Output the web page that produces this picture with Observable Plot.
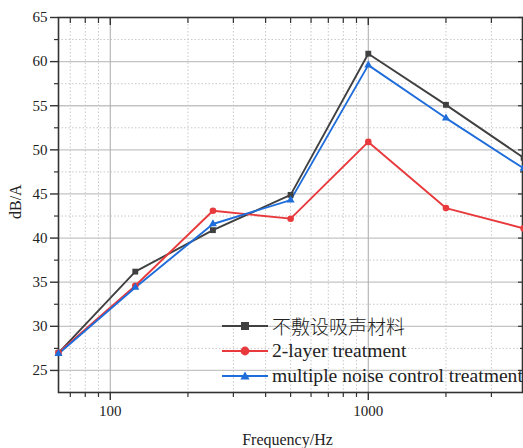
<!DOCTYPE html>
<html><head><meta charset="utf-8">
<script src="https://cdn.jsdelivr.net/npm/d3@7"></script>
<script src="https://cdn.jsdelivr.net/npm/@observablehq/plot@0.6"></script>
<style>
body{margin:0;background:#fff;}
#wrap{position:relative;width:523px;height:448px;overflow:hidden;}
#legend{position:absolute;left:222px;top:313px;font-family:"Liberation Serif","Times New Roman",serif;font-size:19.6px;color:#222;white-space:nowrap;}
#legend .row{height:25px;display:flex;align-items:center;}
#legend svg{margin-right:4px;flex:none;}
#legend .cjk{font-family:"Noto Sans CJK SC",sans-serif;font-size:19px;font-weight:300;}
</style></head><body><div id="wrap"></div>
<script>
const freqs = [63, 125, 250, 500, 1000, 2000, 4000];
const seriesNames = ["不敷设吸声材料", "2-layer treatment", "multiple noise control treatment"];
const untreated = [27, 36.2, 40.9, 44.9, 60.9, 55.1, 49.1];
const twoLayer = [27, 34.6, 43.1, 42.2, 50.9, 43.4, 41.1];
const multiple = [26.9, 34.4, 41.6, 44.3, 59.6, 53.6, 47.9];
const colors = ["#404040", "#e8393c", "#1f6ddb"];
const symbols = ["square", "circle", "triangle"];
const yMajor = [25, 30, 35, 40, 45, 50, 55, 60, 65];
const yMinor = [27.5, 32.5, 37.5, 42.5, 47.5, 52.5, 57.5, 62.5];
const xMajor = [100, 1000];
const xMinor = [70, 80, 90, 200, 300, 400, 500, 600, 700, 800, 900, 2000, 3000];
const xLabel = "Frequency/Hz";
const yLabel = "dB/A";

const values = [untreated, twoLayer, multiple];
const data = [];
seriesNames.forEach((s, i) => freqs.forEach((f, j) => data.push({series: s, freq: f, db: values[i][j]})));

const ax = "#333";
const chart = Plot.plot({
  width: 523, height: 448,
  marginLeft: 58, marginRight: 1, marginTop: 17, marginBottom: 56,
  style: {fontFamily: "'Liberation Serif','Times New Roman',serif", fontSize: "15px", color: "#222", background: "#fff", overflow: "visible"},
  x: {type: "log", domain: [63, 3960]},
  y: {domain: [22.5, 65]},
  color: {domain: seriesNames, range: colors},
  symbol: {domain: seriesNames, range: symbols},
  marks: [
    Plot.ruleY(yMajor.filter(d => d < 65), {stroke: "#c4c4c4", strokeWidth: 1.3}),
    Plot.ruleY(yMinor, {stroke: "#c8c8c8", strokeWidth: 1, strokeDasharray: "1.5,2"}),
    Plot.ruleX(xMinor, {stroke: "#c8c8c8", strokeWidth: 1, strokeDasharray: "1.5,2"}),
    Plot.ruleX(xMajor, {stroke: "#b0b0b0", strokeWidth: 1.1}),
    Plot.frame({stroke: ax, strokeWidth: 1.6}),
    Plot.axisY(yMajor, {anchor: "left", tickSize: 8, tickPadding: 3, stroke: ax, strokeWidth: 1.4, label: null, fontSize: 15}),
    Plot.axisY(yMinor, {anchor: "left", tickSize: 4, fill: "none", stroke: ax, strokeWidth: 1.2, label: null}),
    Plot.axisY(yMajor, {anchor: "right", tickSize: -5, fill: "none", stroke: ax, strokeWidth: 1.2, label: null}),
    Plot.axisY(yMinor, {anchor: "right", tickSize: -3, fill: "none", stroke: ax, strokeWidth: 1.2, label: null}),
    Plot.axisX(xMajor, {anchor: "bottom", tickSize: 8, tickPadding: 5, stroke: ax, strokeWidth: 1.4, label: null, tickFormat: d => String(d), fontSize: 15}),
    Plot.axisX(xMinor, {anchor: "bottom", tickSize: 5, fill: "none", stroke: ax, strokeWidth: 1.2, label: null}),
    Plot.axisX(xMajor, {anchor: "top", tickSize: -7, fill: "none", stroke: ax, strokeWidth: 1.4, label: null}),
    Plot.axisX(xMinor, {anchor: "top", tickSize: -5, fill: "none", stroke: ax, strokeWidth: 1.2, label: null}),
    Plot.line(data, {x: "freq", y: "db", z: "series", stroke: "series", strokeWidth: 1.9, clip: false}),
    Plot.dot(data, {x: "freq", y: "db", fill: "series", symbol: "series", r: d => d.series === seriesNames[2] ? 3.8 : 4.6, stroke: "none"}),
    Plot.text([xLabel], {frameAnchor: "bottom", dy: 52, dx: -3, fontSize: 16, fill: "#222"}),
    Plot.text([yLabel], {frameAnchor: "left", dx: -43, dy: 14, rotate: -90, fontSize: 16, fill: "#222"})
  ]
});
const wrap = document.getElementById("wrap");
wrap.appendChild(chart);

// legend
const legend = document.createElement("div");
legend.id = "legend";
const shapes = {
  square: c => `<rect x="19" y="2" width="8" height="8" fill="${c}"/>`,
  circle: c => `<circle cx="23" cy="6" r="4.4" fill="${c}"/>`,
  triangle: c => `<path d="M23,1.5 L27.6,9.5 L18.4,9.5 Z" fill="${c}"/>`
};
seriesNames.forEach((s, i) => {
  const row = document.createElement("div");
  row.className = "row";
  row.innerHTML = `<svg width="46" height="12"><line x1="0" y1="6" x2="46" y2="6" stroke="${colors[i]}" stroke-width="1.8"/>${shapes[symbols[i]](colors[i])}</svg><span class="${i === 0 ? "cjk" : ""}">${s}</span>`;
  legend.appendChild(row);
});
wrap.appendChild(legend);
</script></body></html>
